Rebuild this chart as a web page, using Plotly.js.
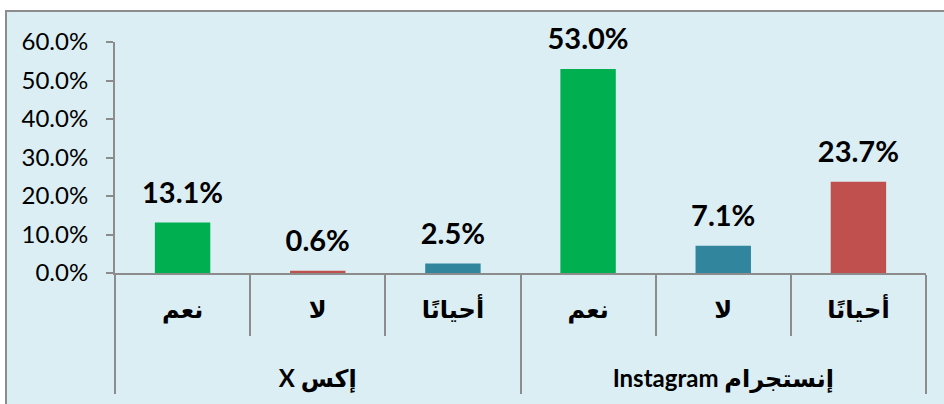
<!DOCTYPE html>
<html>
<head>
<meta charset="utf-8">
<script src="https://cdn.plot.ly/plotly-3.0.1.min.js"></script>
<style>
html,body{margin:0;padding:0;background:#ffffff;overflow:hidden;width:944px;height:404px;}
#wrap{position:absolute;left:5px;top:10px;width:960px;height:420px;border-left:2px solid #8c8c8c;border-top:2px solid #8c8c8c;background:#DBEEF3;}
#chart{position:absolute;left:0;top:0;width:960px;height:420px;}
</style>
</head>
<body>
<div id="wrap"><div id="chart"></div></div>
<script>
const groups = ["إكس X","إكس X","إكس X","إنستجرام Instagram","إنستجرام Instagram","إنستجرام Instagram"];
const answers = ["نعم","لا","أحيانًا","نعم","لا","أحيانًا"];
const values = [0.131, 0.006, 0.025, 0.530, 0.071, 0.237];
const colors = ["#00B050","#C0504D","#31859C","#00B050","#31859C","#C0504D"];
const yTicks = [0,0.1,0.2,0.3,0.4,0.5,0.6];

const FONT = "Lato, 'DejaVu Sans', sans-serif";
const LABEL_PX = 24;
const sized = s => '<span style="font-size:' + LABEL_PX + 'px">' + s + '</span>';
// group labels: right-to-left embedding, drawn one line lower on the second level
const groupLabels = groups.map(g => '<br>' + sized('\u202B' + g + '\u202C'));
const answerLabels = answers.map(a => sized(a));
const xCats = [groupLabels, answerLabels];

const bars = {
  type: 'bar',
  x: xCats,
  y: values,
  marker: {color: colors, line: {width: 0}},
  hoverinfo: 'none'
};
const labels = {
  type: 'scatter',
  mode: 'markers+text',
  x: xCats,
  y: values,
  marker: {size: 18, color: 'rgba(0,0,0,0)'},
  texttemplate: '%{y:.1%}',
  textposition: 'top center',
  cliponaxis: false,
  textfont: {family: FONT, size: 29, color: '#000000', weight: 'bold'},
  hoverinfo: 'none'
};
const layout = {
  width: 960, height: 420,
  margin: {l: 108, r: 41, t: 30, b: 159, pad: 0},
  paper_bgcolor: 'rgba(0,0,0,0)',
  plot_bgcolor: 'rgba(0,0,0,0)',
  bargap: 0.59,
  showlegend: false,
  xaxis: {
    type: 'multicategory',
    showline: true, linecolor: '#8c8c8c', linewidth: 2,
    ticks: 'outside', ticklen: 61, tickcolor: '#8c8c8c', tickwidth: 2,
    tickson: 'boundaries',
    showdividers: true, dividercolor: '#8c8c8c', dividerwidth: 2,
    tickfont: {family: FONT, size: 32, color: '#000000', weight: 'bold'},
    ticklabelstandoff: 5,
    showgrid: false, zeroline: false
  },
  yaxis: {
    range: [0, 0.6],
    tickvals: yTicks,
    tickformat: '.1%',
    showline: true, linecolor: '#8c8c8c', linewidth: 2,
    ticks: 'outside', ticklen: 7, tickcolor: '#8c8c8c', tickwidth: 2,
    tickfont: {family: FONT, size: 24, color: '#000000'},
    ticklabelstandoff: 13,
    showgrid: false, zeroline: false
  }
};
Plotly.newPlot('chart', [bars, labels], layout, {staticPlot: true, displayModeBar: false});
</script>
</body>
</html>
